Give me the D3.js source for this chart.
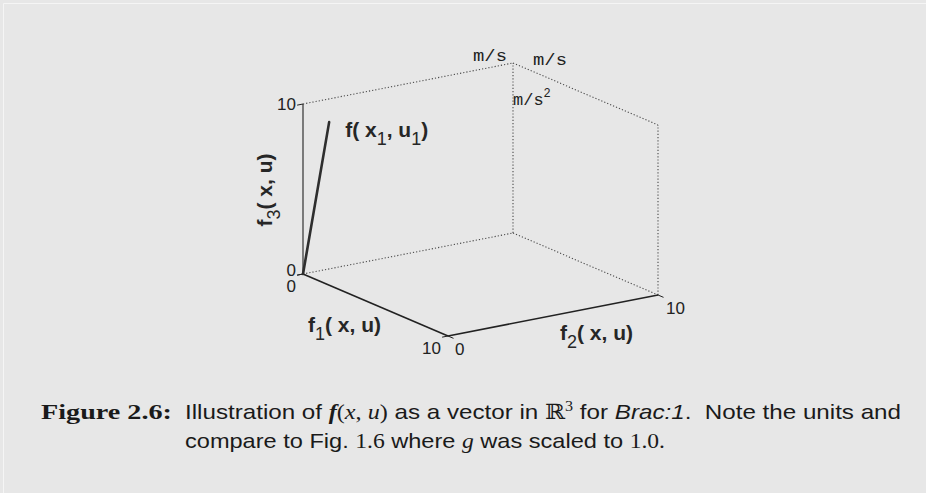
<!DOCTYPE html>
<html>
<head>
<meta charset="utf-8">
<script src="https://cdn.jsdelivr.net/npm/d3@7"></script>
<style>
  html, body { margin: 0; padding: 0; background: #e7e7e7; }
  svg { display: block; }
</style>
</head>
<body>
<svg id="chart" width="926" height="493"></svg>
<script>
// Vector f(x1,u1) components along f1, f2, f3
const vectorValue = [0.5, 0.9, 8.9];
const axisDomain = [0, 10];
const axisTicks = [0, 10];
const unitLabels = ["m/s", "m/s", "m/s"];
const vectorLabel = ["f( x", "1", ", u", "1", ")"];

const svg = d3.select("#chart");
const W = 926, H = 493;

svg.append("rect").attr("width", W).attr("height", H).attr("fill", "#e7e7e7");
// thin frame highlight
svg.append("path").attr("d", "M3.5,493 V3.5 H926")
  .attr("fill", "none").attr("stroke", "#f5f5f5").attr("stroke-width", 1);

// Oblique projection of the [0,10]^3 box, one scale per screen component
const ox = 303, oy = 274;
const s1x = d3.scaleLinear().domain(axisDomain).range([0, 145]);
const s1y = d3.scaleLinear().domain(axisDomain).range([0, 62]);
const s2x = d3.scaleLinear().domain(axisDomain).range([0, 210]);
const s2y = d3.scaleLinear().domain(axisDomain).range([0, -41]);
const s3y = d3.scaleLinear().domain(axisDomain).range([0, -170]);
const P = (a, b, c) => [ox + s1x(a) + s2x(b), oy + s1y(a) + s2y(b) + s3y(c)];

const lo = axisDomain[0], hi = axisDomain[1];
const line = d3.line();

// dotted box edges
const dotted = [
  [[lo, lo, lo], [lo, hi, lo]],
  [[lo, hi, lo], [hi, hi, lo]],
  [[lo, hi, lo], [lo, hi, hi]],
  [[hi, hi, lo], [hi, hi, hi]],
  [[lo, lo, hi], [lo, hi, hi]],
  [[lo, hi, hi], [hi, hi, hi]]
];
svg.append("g").selectAll("path").data(dotted).join("path")
  .attr("d", d => line(d.map(p => P(...p))))
  .attr("fill", "none").attr("stroke", "#4a4a4a")
  .attr("stroke-width", 1.1).attr("stroke-dasharray", "1.2,2");

// solid axes
const axes = [
  { seg: [[lo, lo, lo], [hi, lo, lo]], w: 1.6 },
  { seg: [[hi, lo, lo], [hi, hi, lo]], w: 1.6 },
  { seg: [[lo, lo, lo], [lo, lo, hi]], w: 1.1 }
];
svg.append("g").selectAll("path").data(axes).join("path")
  .attr("d", d => line(d.seg.map(p => P(...p))))
  .attr("fill", "none").attr("stroke", "#222").attr("stroke-width", d => d.w);

// tick marks
const tickLen = 6;
function unit(v) { const n = Math.hypot(v[0], v[1]); return [v[0] / n, v[1] / n]; }
const dirNeg2 = unit([-(s2x(hi) - s2x(lo)), -(s2y(hi) - s2y(lo))]);
const dirPos1 = unit([s1x(hi) - s1x(lo), s1y(hi) - s1y(lo)]);
const ticks = [];
axisTicks.forEach(t => {
  ticks.push({ p: P(lo, lo, t), d: dirNeg2 });
  ticks.push({ p: P(t, lo, lo), d: dirNeg2 });
  ticks.push({ p: P(hi, t, lo), d: dirPos1 });
});
svg.append("g").selectAll("line").data(ticks).join("line")
  .attr("x1", d => d.p[0]).attr("y1", d => d.p[1])
  .attr("x2", d => d.p[0] + d.d[0] * tickLen).attr("y2", d => d.p[1] + d.d[1] * tickLen)
  .attr("stroke", "#222").attr("stroke-width", 1);

// tick labels
const tickFont = "'Liberation Sans', Arial, sans-serif";
const tl = svg.append("g").attr("font-family", tickFont).attr("font-size", 17).attr("fill", "#222");
axisTicks.forEach(t => {
  const p3 = P(lo, lo, t);
  tl.append("text").attr("x", p3[0] - 7).attr("y", p3[1] + 6 - (t === lo ? 4 : 0))
    .attr("text-anchor", "end").text(t);
  const p1 = P(t, lo, lo);
  tl.append("text").attr("x", p1[0] - 7).attr("y", p1[1] + (t === lo ? 18 : 18))
    .attr("text-anchor", "end").text(t);
  const p2 = P(hi, t, lo);
  tl.append("text").attr("x", p2[0] + (t === lo ? 7 : 8)).attr("y", p2[1] + (t === lo ? 19 : 19))
    .attr("text-anchor", "start").text(t);
});

// the vector
const tip = P(...vectorValue);
svg.append("path").attr("d", line([P(0, 0, 0), tip]))
  .attr("stroke", "#2e2e2e").attr("stroke-width", 2.6).attr("fill", "none")
  .attr("stroke-linecap", "round");

// labels with subscripts
const labFont = "'Liberation Sans', Arial, sans-serif";
function subLabel(g, x, y, parts, rotate) {
  const t = g.append("text").attr("x", x).attr("y", y)
    .attr("font-family", labFont).attr("font-size", 21).attr("font-weight", "bold")
    .attr("fill", "#262626").attr("xml:space", "preserve");
  if (rotate) t.attr("transform", `rotate(-90,${x},${y})`).attr("text-anchor", "middle");
  parts.forEach((s, i) => {
    const ts = t.append("tspan").text(s);
    if (i % 2 === 1) ts.attr("font-size", 18).attr("font-weight", "normal").attr("dy", 8);
    else if (i > 0) ts.attr("dy", -8);
  });
  return t;
}
const lg = svg.append("g");
subLabel(lg, tip[0] + 16, 137, vectorLabel);
subLabel(lg, 308, 332, ["f", "1", "( x, u)"]);
subLabel(lg, 560, 340, ["f", "2", "( x, u)"]);
subLabel(lg, 272, 190, ["f", "3", "( x, u)"], true);

// unit annotations at the far corner
const corner = P(lo, hi, hi);
const ug = svg.append("g").attr("font-family", "'Liberation Mono', 'DejaVu Sans Mono', monospace")
  .attr("font-size", 17).attr("fill", "#222");
ug.append("text").attr("x", corner[0] - 40).attr("y", corner[1] - 2)
  .attr("textLength", 34).attr("lengthAdjust", "spacingAndGlyphs").text(unitLabels[0]);
ug.append("text").attr("x", corner[0] + 20).attr("y", corner[1] + 2)
  .attr("textLength", 34).attr("lengthAdjust", "spacingAndGlyphs").text(unitLabels[1]);
const u3 = ug.append("text").attr("x", corner[0] + 0).attr("y", corner[1] + 42).text(unitLabels[2]);
u3.append("tspan").attr("font-size", 12).attr("dy", -8).text("2");

// caption
const cap = svg.append("g").attr("fill", "#1a1a1a");
cap.append("text").attr("x", 41).attr("y", 419)
  .attr("font-family", "'Liberation Serif', 'DejaVu Serif', serif").attr("font-weight", "bold")
  .attr("font-size", 21).attr("textLength", 131).attr("lengthAdjust", "spacingAndGlyphs")
  .text("Figure 2.6:");

const sans = "'Liberation Sans', Arial, sans-serif";
const serif = "'Liberation Serif', 'DejaVu Serif', serif";
const l1 = cap.append("text").attr("x", 185).attr("y", 419)
  .attr("font-family", sans).attr("font-size", 21).attr("xml:space", "preserve")
  .attr("textLength", 716).attr("lengthAdjust", "spacingAndGlyphs");
l1.append("tspan").text("Illustration of ");
l1.append("tspan").attr("font-family", serif).attr("font-style", "italic").attr("font-weight", "bold").text("f");
l1.append("tspan").attr("font-family", serif).text("(");
l1.append("tspan").attr("font-family", serif).attr("font-style", "italic").text("x");
l1.append("tspan").attr("font-family", serif).text(", ");
l1.append("tspan").attr("font-family", serif).attr("font-style", "italic").text("u");
l1.append("tspan").attr("font-family", serif).text(")");
l1.append("tspan").text(" as a vector in ");
l1.append("tspan").attr("font-family", "'DejaVu Serif', serif").text("ℝ");
l1.append("tspan").attr("font-family", serif).attr("font-size", 14).attr("dy", -8).text("3");
l1.append("tspan").attr("dy", 8).text(" for ");
l1.append("tspan").attr("font-style", "italic").text("Brac:1");
l1.append("tspan").text(".  Note the units and");

const l2 = cap.append("text").attr("x", 185).attr("y", 448)
  .attr("font-family", sans).attr("font-size", 21).attr("xml:space", "preserve")
  .attr("textLength", 480).attr("lengthAdjust", "spacingAndGlyphs");
l2.append("tspan").text("compare to Fig. ");
l2.append("tspan").attr("font-family", serif).text("1.6");
l2.append("tspan").text(" where ");
l2.append("tspan").attr("font-family", serif).attr("font-style", "italic").text("g");
l2.append("tspan").text(" was scaled to ");
l2.append("tspan").attr("font-family", serif).text("1.0.");
</script>
</body>
</html>
